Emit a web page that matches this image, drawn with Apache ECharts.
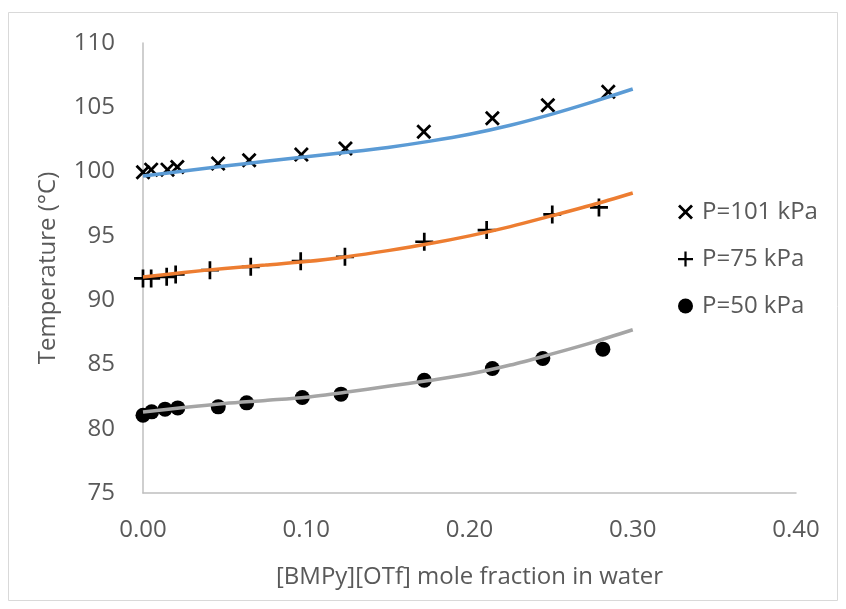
<!DOCTYPE html>
<html>
<head>
<meta charset="utf-8">
<script src="https://cdn.jsdelivr.net/npm/echarts@6/dist/echarts.min.js"></script>
<style>
html,body{margin:0;padding:0;background:#fff;}
#chart{width:846px;height:609px;}
</style>
</head>
<body>
<div id="chart"></div>
<script>
// Measured points
const x101 = [0, 0.005, 0.015, 0.021, 0.046, 0.065, 0.097, 0.124, 0.172, 0.214, 0.248, 0.285];
const t101 = [99.95, 100.15, 100.15, 100.35, 100.62, 100.88, 101.32, 101.8, 103.1, 104.14, 105.16, 106.2];
const x75 = [0, 0.005, 0.0145, 0.020, 0.041, 0.066, 0.0966, 0.1237, 0.1723, 0.2105, 0.2507, 0.2793];
const t75 = [91.69, 91.69, 91.81, 92.0, 92.33, 92.59, 93.03, 93.37, 94.54, 95.45, 96.67, 97.21];
const x50 = [0, 0.0053, 0.0135, 0.0213, 0.0461, 0.0635, 0.0976, 0.1213, 0.1723, 0.214, 0.2449, 0.2817];
const t50 = [81.05, 81.31, 81.52, 81.62, 81.7, 82.01, 82.43, 82.69, 83.77, 84.68, 85.46, 86.19];
// Trend lines
const fitX = [0, 0.025, 0.05, 0.075, 0.1, 0.125, 0.15, 0.175, 0.2, 0.225, 0.25, 0.275, 0.3];
const fit101 = [99.65, 100.05, 100.43, 100.8, 101.15, 101.5, 101.88, 102.35, 102.9, 103.6, 104.45, 105.4, 106.42];
const fit75 = [91.8, 92.15, 92.47, 92.73, 93.0, 93.38, 93.85, 94.38, 95.0, 95.72, 96.55, 97.4, 98.33];
const fit50 = [81.3, 81.65, 81.96, 82.2, 82.45, 82.85, 83.3, 83.75, 84.25, 84.95, 85.8, 86.7, 87.7];
const seriesNames = ['P=101 kPa', 'P=75 kPa', 'P=50 kPa'];
const xTicks = [0, 0.1, 0.2, 0.3, 0.4];
const yTicks = [75, 80, 85, 90, 95, 100, 105, 110];

const pair = (xs, ys) => xs.map((x, i) => [x, ys[i]]);
const FONT = '"Open Sans", sans-serif';
const TXT = '#595959';
const XPATH = 'path://M0,2.1 L2.1,0 L8,5.9 L13.9,0 L16,2.1 L10.1,8 L16,13.9 L13.9,16 L8,10.1 L2.1,16 L0,13.9 L5.9,8 Z';
const PPATH = 'path://M0,6.8 L6.8,6.8 L6.8,0 L9.2,0 L9.2,6.8 L16,6.8 L16,9.2 L9.2,9.2 L9.2,16 L6.8,16 L6.8,9.2 L0,9.2 Z';

const chart = echarts.init(document.getElementById('chart'), null, {renderer: 'canvas'});
chart.setOption({
  animation: false,
  backgroundColor: '#fff',
  graphic: [{
    type: 'rect', shape: {x: 8.5, y: 12.5, width: 829, height: 588},
    style: {fill: 'none', stroke: '#d9d9d9', lineWidth: 1}, silent: true, z: -10
  }],
  grid: {left: 143, right: 50, top: 43, bottom: 116, containLabel: false},
  xAxis: {
    type: 'value', min: 0, max: 0.4, interval: 0.1,
    name: '[BMPy][OTf] mole fraction in water', nameLocation: 'middle', nameGap: 72,
    nameTextStyle: {fontFamily: FONT, fontSize: 24, color: TXT},
    axisLine: {show: true, lineStyle: {color: '#bfbfbf', width: 1.5}},
    axisTick: {show: false}, splitLine: {show: false},
    axisLabel: {margin: 25, fontFamily: FONT, fontSize: 24, color: TXT,
      formatter: v => (xTicks.some(t => Math.abs(t - v) < 1e-9) ? v.toFixed(2) : '')}
  },
  yAxis: {
    type: 'value', min: 75, max: 110, interval: 5,
    name: 'Temperature (°C)', nameLocation: 'middle', nameGap: 83,
    nameTextStyle: {fontFamily: FONT, fontSize: 24, color: TXT},
    axisLine: {show: true, lineStyle: {color: '#bfbfbf', width: 1.5}},
    axisTick: {show: false}, splitLine: {show: false},
    axisLabel: {margin: 28, fontFamily: FONT, fontSize: 24, color: TXT,
      formatter: v => (yTicks.includes(v) ? String(v) : '')}
  },
  legend: {
    data: seriesNames, orient: 'vertical', left: 673, top: 195,
    itemWidth: 23, itemHeight: 15, itemGap: 23,
    textStyle: {fontFamily: FONT, fontSize: 24, color: TXT}
  },
  series: [
    {name: seriesNames[0], type: 'scatter', data: pair(x101, t101), symbol: XPATH, symbolSize: 15,
      itemStyle: {color: '#000', opacity: 1}, z: 2},
    {name: seriesNames[1], type: 'scatter', data: pair(x75, t75), symbol: PPATH, symbolSize: 18,
      itemStyle: {color: '#000', opacity: 1}, z: 2},
    {name: seriesNames[2], type: 'scatter', data: pair(x50, t50), symbol: 'circle', symbolSize: 15,
      itemStyle: {color: '#000', opacity: 1}, z: 2},
    {name: 'fit101', type: 'line', data: pair(fitX, fit101), smooth: 0.3, showSymbol: false,
      lineStyle: {color: '#5B9BD5', width: 3.5}, z: 3},
    {name: 'fit75', type: 'line', data: pair(fitX, fit75), smooth: 0.3, showSymbol: false,
      lineStyle: {color: '#ED7D31', width: 3.5}, z: 3},
    {name: 'fit50', type: 'line', data: pair(fitX, fit50), smooth: 0.3, showSymbol: false,
      lineStyle: {color: '#A5A5A5', width: 3.5}, z: 3}
  ]
});
</script>
</body>
</html>
